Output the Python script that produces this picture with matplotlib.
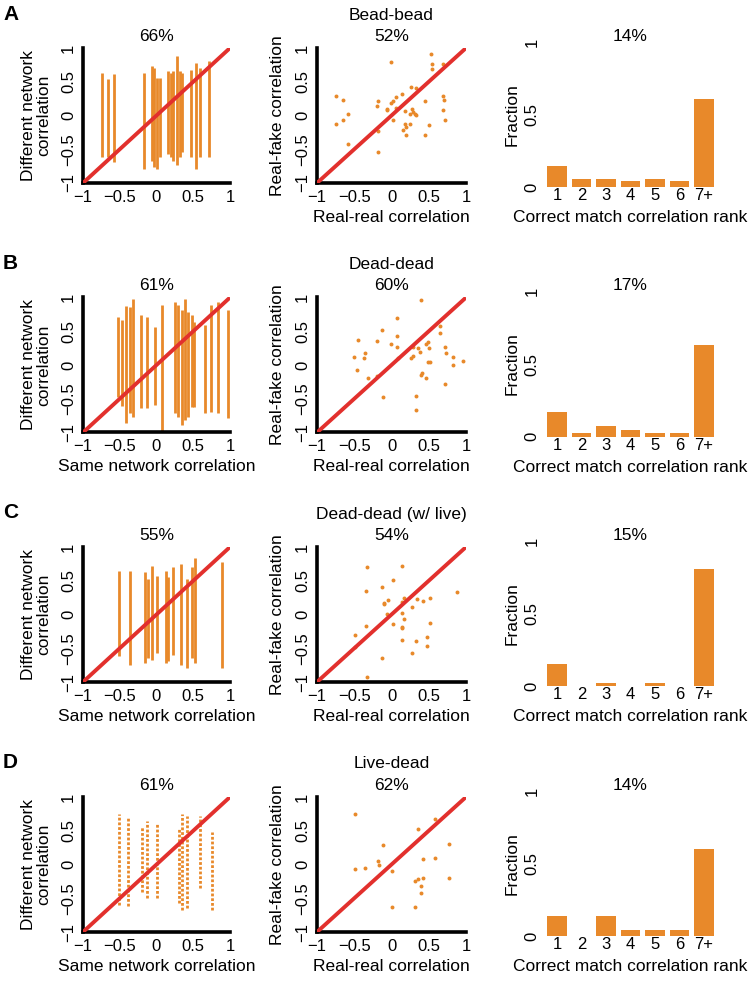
import numpy as np
import matplotlib
matplotlib.use("Agg")
import matplotlib.pyplot as plt

plt.rcParams['font.family'] = ['Liberation Sans', 'DejaVu Sans']

# Colores
ORANGE = '#E8892A'
RED = '#E2302D'

# Títulos de cada fila
row_letters = ['A', 'B', 'C', 'D']
row_names = ['Bead-bead', 'Dead-dead', 'Dead-dead (w/ live)', 'Live-dead']
same_pct = ['66%', '61%', '55%', '61%']
fake_pct = ['52%', '60%', '54%', '62%']
rank_pct = ['14%', '17%', '15%', '14%']

# Columna 1: franjas verticales (x, y mínimo, y máximo)
bead_stripe_x = [-0.745, -0.659, -0.577, -0.173, -0.059, -0.036, 0.0, 0.045, 0.159, 0.191,
                 0.227, 0.273, 0.318, 0.35, 0.464, 0.536, 0.591, 0.714]
bead_stripe_lo = [-0.618, -0.618, -0.691, -0.789, -0.667, -0.765, -0.789, -0.618, -0.569, -0.618,
                  -0.667, -0.740, -0.618, -0.544, -0.618, -0.789, -0.618, -0.618]
bead_stripe_hi = [0.632, 0.534, 0.608, 0.632, 0.730, 0.706, 0.559, 0.559, 0.657, 0.632,
                  0.657, 0.877, 0.657, 0.632, 0.681, 0.779, 0.706, 0.804]

dead_stripe_x = [-0.523, -0.473, -0.409, -0.364, -0.318, -0.214, -0.136, -0.023, 0.077, 0.25,
                 0.295, 0.341, 0.386, 0.432, 0.477, 0.514, 0.659, 0.736, 0.841, 0.977]
dead_stripe_lo = [-0.468, -0.606, -0.862, -0.714, -0.764, -0.640, -0.640, -0.591, -0.985, -0.714,
                  -0.764, -0.887, -0.813, -0.764, -0.616, -0.616, -0.714, -0.690, -0.714, -0.788]
dead_stripe_hi = [0.704, 0.665, 0.872, 0.862, 0.985, 0.739, 0.714, 0.557, 0.887, 0.936,
                  0.887, 0.813, 0.985, 0.788, 0.739, 0.640, 0.591, 0.887, 0.936, 0.813]

deadlive_stripe_x = [-0.514, -0.364, -0.159, -0.114, -0.059, 0.0, 0.123, 0.159, 0.227, 0.332,
                     0.418, 0.477, 0.523, 0.886]
deadlive_stripe_lo = [-0.620, -0.741, -0.717, -0.644, -0.668, -0.571, -0.717, -0.693, -0.595, -0.741,
                      -0.790, -0.644, -0.717, -0.790]
deadlive_stripe_hi = [0.649, 0.649, 0.624, 0.527, 0.722, 0.576, 0.649, 0.551, 0.698, 0.746,
                      0.527, 0.698, 0.844, 0.771]

livedead_stripe_x = [-0.514, -0.386, -0.191, -0.136, 0.0, 0.305, 0.35, 0.418, 0.591, 0.759]
livedead_stripe_lo = [-0.595, -0.620, -0.400, -0.498, -0.498, -0.571, -0.668, -0.644, -0.351, -0.668]
livedead_stripe_hi = [0.746, 0.707, 0.561, 0.649, 0.600, 0.527, 0.746, 0.722, 0.722, 0.478]

# Columna 2: correlación real-real vs real-fake
bead_real = [0.528, -0.002, 0.542, 0.685, 0.537, -0.744, -0.649, 0.267, 0.326, 0.146, -0.178,
             0.447, 0.685, 0.708, -0.191, 0.02, -0.011, 0.056, -0.582, -0.056, -0.056, 0.056,
             0.182, 0.272, 0.29, 0.245, 0.312, 0.335, 0.694, -0.744, -0.654, 0.02, 0.178,
             0.249, 0.191, 0.717, 0.506, 0.155, -0.178, 0.191, 0.447, -0.582, -0.182]
bead_fake = [0.917, 0.795, 0.756, 0.756, 0.683, 0.293, 0.229, 0.429, 0.405, 0.317, 0.22,
             0.22, 0.283, 0.229, 0.146, 0.21, 0.18, 0.268, 0.024, 0.098, 0.083, 0.112,
             0.063, 0.098, 0.049, 0.015, 0.024, 0.01, 0.083, -0.122, -0.073, -0.073, -0.122,
             -0.122, -0.171, -0.073, -0.146, -0.22, -0.234, -0.283, -0.283, -0.424, -0.541]

dead_real = [0.397, 0.080, -0.125, -0.455, -0.196, 0.080, -0.004, 0.080, 0.652, 0.652, 0.487,
             0.464, 0.286, 0.353, 0.384, 0.509, 0.723, 0.732, -0.509, -0.375, -0.353, 0.085,
             0.259, 0.295, 0.830, 0.955, 0.496, 0.518, -0.464, 0.830, -0.317, -0.196, 0.415,
             0.397, 0.460, 0.723, -0.116, 0.330, 0.330]
dead_fake = [0.961, 0.700, 0.512, 0.374, 0.355, 0.429, 0.315, 0.271, 0.576, 0.468, 0.345,
             0.310, 0.266, 0.256, 0.197, 0.251, 0.266, 0.182, 0.118, 0.103, 0.172, 0.108,
             0.103, 0.133, 0.123, 0.064, 0.044, 0.044, -0.069, 0.0, -0.187, -0.158, -0.113,
             -0.148, -0.197, -0.276, -0.478, -0.458, -0.665]

deadlive_real = [-0.330, 0.147, 0.018, -0.134, -0.348, 0.875, 0.170, -0.049, -0.107, -0.098,
                 0.138, 0.339, 0.420, 0.522, 0.277, -0.054, 0.147, 0.170, 0.018, 0.147, 0.147,
                 0.522, -0.348, -0.491, -0.496, 0.138, 0.335, 0.473, 0.473, 0.277, -0.134, -0.330]
deadlive_fake = [0.706, 0.725, 0.515, 0.402, 0.348, 0.338, 0.25, 0.211, 0.172, 0.152,
                 0.186, 0.235, 0.201, 0.245, 0.113, 0.010, 0.025, -0.069, -0.137, -0.186, -0.206,
                 -0.127, -0.167, -0.304, -0.475, -0.382, -0.397, -0.338, -0.466, -0.574, -0.647, -0.922]

livedead_real = [-0.487, 0.589, 0.353, -0.112, 0.768, -0.179, -0.170, -0.362, -0.491, 0.013,
                 0.424, 0.589, 0.424, 0.353, 0.321, 0.768, 0.402, 0.402, 0.013, 0.321]
livedead_fake = [0.755, 0.667, 0.520, 0.284, 0.304, 0.054, -0.010, -0.054, -0.074, -0.103,
                 0.083, 0.093, -0.196, -0.216, -0.245, -0.206, -0.324, -0.426, -0.637, -0.627]

# Columna 3: fracción por rango de correlación
ranks = ['1', '2', '3', '4', '5', '6', '7+']
bead_frac = [0.143, 0.057, 0.057, 0.039, 0.057, 0.039, 0.607]
dead_frac = [0.171, 0.027, 0.073, 0.043, 0.027, 0.027, 0.630]
deadlive_frac = [0.15, 0.0, 0.02, 0.0, 0.02, 0.0, 0.81]
livedead_frac = [0.14, 0.0, 0.14, 0.04, 0.04, 0.04, 0.60]

stripes = [(bead_stripe_x, bead_stripe_lo, bead_stripe_hi),
           (dead_stripe_x, dead_stripe_lo, dead_stripe_hi),
           (deadlive_stripe_x, deadlive_stripe_lo, deadlive_stripe_hi),
           (livedead_stripe_x, livedead_stripe_lo, livedead_stripe_hi)]
scatters = [(bead_real, bead_fake), (dead_real, dead_fake),
            (deadlive_real, deadlive_fake), (livedead_real, livedead_fake)]
fracs = [bead_frac, dead_frac, deadlive_frac, livedead_frac]

W, H = 750, 981
TICK_FS = 12
LABEL_FS = 12.5


def box(left, top, width, height):
    return [left / W, 1 - (top + height) / H, width / W, height / H]


def style_corr_axis(ax):
    ax.set(xlim=(-1, 1), ylim=(-1, 1))
    ax.set_xticks([-1, -0.5, 0, 0.5, 1])
    ax.set_yticks([-1, -0.5, 0, 0.5, 1])
    ax.set_xticklabels(['\u22121', '\u22120.5', '0', '0.5', '1'])
    ax.set_yticklabels(['\u22121', '\u22120.5', '0', '0.5', '1'], rotation=90, va='center')
    for s in ['top', 'right']:
        ax.spines[s].set_visible(False)
    for s in ['left', 'bottom']:
        ax.spines[s].set_linewidth(2.6)
    ax.tick_params(length=0, labelsize=TICK_FS, pad=5)
    ax.plot([-1, 1], [-1, 1], color=RED, lw=2.8, solid_capstyle='butt', zorder=5)


fig = plt.figure(figsize=(W / 100, H / 100), dpi=100)

row_tops = [48, 297.5, 547, 797]
SC_H = 135

for i, top in enumerate(row_tops):
    # Columna 1
    ax1 = fig.add_axes(box(83, top, 147, SC_H))
    sx, slo, shi = stripes[i]
    if i == 3:
        ax1.vlines(sx, slo, shi, color=ORANGE, lw=2.0, linestyles=(0, (1, 0.7)), zorder=2)
    else:
        ax1.vlines(sx, slo, shi, color=ORANGE, lw=2.0, zorder=2)
    style_corr_axis(ax1)
    ax1.set_ylabel('Different network\ncorrelation', fontsize=LABEL_FS, linespacing=1.0)
    ax1.yaxis.set_label_coords(-0.215, 0.5)
    if i > 0:
        ax1.set_xlabel('Same network correlation', fontsize=LABEL_FS)
        ax1.xaxis.set_label_coords(0.5, -0.2)
    ax1.text(0.5, 1 + 11.5 / SC_H, same_pct[i], transform=ax1.transAxes,
             ha='center', va='center', fontsize=LABEL_FS)
    fig.text(3 / W, 1 - (top - 34) / H, row_letters[i], fontsize=15, fontweight='bold',
             ha='left', va='center')

    # Columna 2
    ax2 = fig.add_axes(box(317, top, 149, SC_H))
    rx, fy = scatters[i]
    ax2.scatter(rx, fy, s=8, color=ORANGE, linewidths=0, zorder=3)
    style_corr_axis(ax2)
    ax2.set_ylabel('Real-fake correlation', fontsize=LABEL_FS)
    ax2.yaxis.set_label_coords(-0.215, 0.5)
    ax2.set_xlabel('Real-real correlation', fontsize=LABEL_FS)
    ax2.xaxis.set_label_coords(0.5, -0.2)
    ax2.text(0.5, 1 + 11.5 / SC_H, fake_pct[i], transform=ax2.transAxes,
             ha='center', va='center', fontsize=LABEL_FS)
    ax2.text(0.5, 1 + 33 / SC_H, row_names[i], transform=ax2.transAxes,
             ha='center', va='center', fontsize=LABEL_FS)

    # Columna 3
    ax3 = fig.add_axes(box(545, top - 6, 171, 145))
    pos = np.arange(1, len(ranks) + 1)
    ax3.bar(pos, fracs[i], width=0.8, color=ORANGE)
    ax3.set(xlim=(0.5, 7.5), ylim=(0, 1))
    ax3.set_xticks(pos)
    ax3.set_xticklabels(ranks)
    ax3.set_yticks([0, 0.5, 1])
    ax3.set_yticklabels(['0', '0.5', '1'], rotation=90, va='center')
    for s in ax3.spines.values():
        s.set_visible(False)
    ax3.tick_params(length=0, labelsize=TICK_FS, pad=1)
    ax3.tick_params(axis='y', pad=4)
    ax3.set_ylabel('Fraction', fontsize=LABEL_FS)
    ax3.yaxis.set_label_coords(-0.146, 0.5)
    ax3.set_xlabel('Correct match correlation rank', fontsize=LABEL_FS)
    ax3.xaxis.set_label_coords(0.5, -0.16)
    ax3.text(0.5, 1 + 5.5 / 145, rank_pct[i], transform=ax3.transAxes,
             ha='center', va='center', fontsize=LABEL_FS)

fig.savefig('out.png', dpi=100)
